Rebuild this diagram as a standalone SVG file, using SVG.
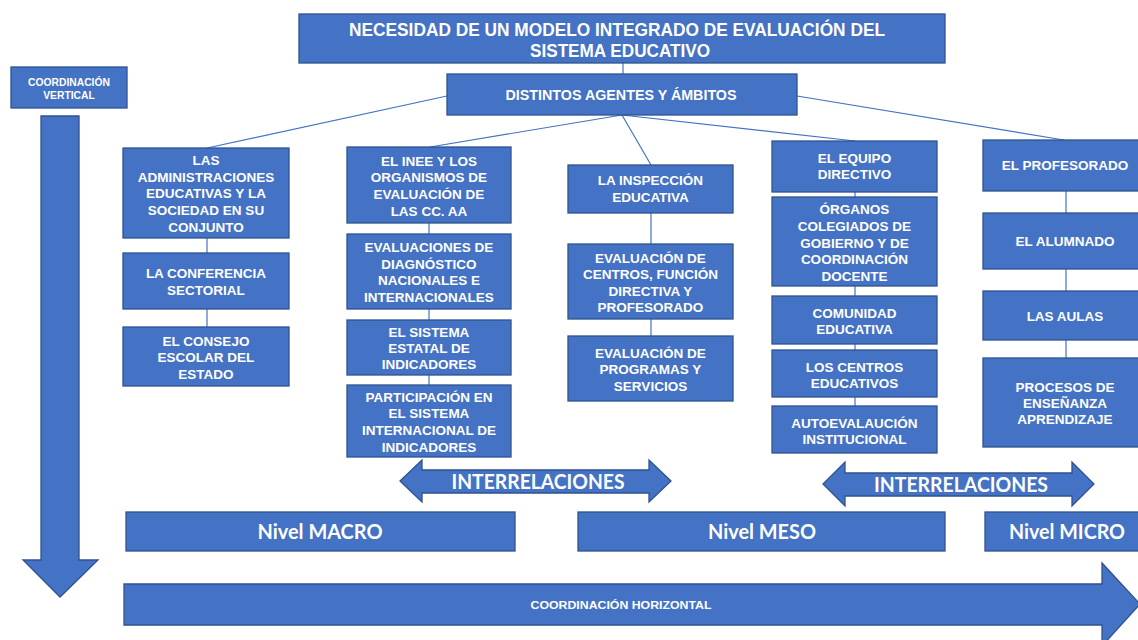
<svg xmlns="http://www.w3.org/2000/svg" width="1138" height="640" viewBox="0 0 1138 640">
<style>
.b{fill:#4472C4;stroke:#2F528F;stroke-width:1.3}
.t{font-family:"Liberation Sans",Arial,sans-serif;font-weight:bold;font-size:13.5px;fill:#fff;text-anchor:middle}
.n{font-family:"Liberation Sans",Arial,sans-serif;font-weight:bold;fill:#fff;text-anchor:middle}
.c{font-family:Lato,"Liberation Sans",sans-serif;font-weight:bold;font-size:20px;fill:#fff;text-anchor:middle}
.l{stroke:#4472C4;stroke-width:1.2;fill:none}
.v{stroke:#8FAADC;stroke-width:2;fill:none}
</style>
<g id="connectors">
<line class="l" x1="623" y1="63" x2="623" y2="74"/>
<line class="l" x1="447" y1="96" x2="207" y2="148"/>
<line class="l" x1="622" y1="115" x2="430" y2="147"/>
<line class="l" x1="622" y1="115" x2="651" y2="165"/>
<line class="l" x1="622" y1="115" x2="855" y2="141"/>
<line class="l" x1="797" y1="96" x2="1064" y2="140"/>
<line class="v" x1="207" y1="238" x2="207" y2="253"/>
<line class="v" x1="207" y1="309" x2="207" y2="327"/>
<line class="v" x1="429" y1="223" x2="429" y2="234"/>
<line class="v" x1="429" y1="309" x2="429" y2="320"/>
<line class="v" x1="429" y1="375" x2="429" y2="385"/>
<line class="v" x1="651" y1="213" x2="651" y2="244"/>
<line class="v" x1="651" y1="319" x2="651" y2="336"/>
<line class="v" x1="855" y1="192" x2="855" y2="197"/>
<line class="v" x1="855" y1="286" x2="855" y2="296"/>
<line class="v" x1="855" y1="344" x2="855" y2="350"/>
<line class="v" x1="855" y1="397" x2="855" y2="406"/>
<line class="v" x1="1066" y1="191" x2="1066" y2="213"/>
<line class="v" x1="1066" y1="269" x2="1066" y2="291"/>
<line class="v" x1="1066" y1="340" x2="1066" y2="358"/>
</g>
<g id="title">
<rect class="b" x="299" y="14" width="646" height="49"/>
<text class="n" x="617" y="36" font-size="17.5" textLength="536" lengthAdjust="spacingAndGlyphs">NECESIDAD DE UN MODELO INTEGRADO DE EVALUACIÓN DEL</text>
<text class="n" x="620" y="57" font-size="17.5" textLength="180" lengthAdjust="spacingAndGlyphs">SISTEMA EDUCATIVO</text>
</g>
<g id="agentes">
<rect class="b" x="447" y="74" width="350" height="41"/>
<text class="n" x="621" y="100" font-size="14" textLength="231" lengthAdjust="spacingAndGlyphs">DISTINTOS AGENTES Y ÁMBITOS</text>
</g>
<g id="coord-vertical">
<rect class="b" x="11" y="67" width="116" height="41"/>
<text class="n" x="69" y="85.5" font-size="10.3">COORDINACIÓN</text>
<text class="n" x="69" y="99" font-size="10.3">VERTICAL</text>
</g>
<g id="arrow-vertical">
<path class="b" d="M41,116 H79 V560 H98 L60,597 L23,560 H41 Z"/>
</g>
<g id="administraciones">
<rect class="b" x="123" y="148" width="166" height="90"/>
<text class="t" x="206" y="165">LAS</text>
<text class="t" x="206" y="181.7">ADMINISTRACIONES</text>
<text class="t" x="206" y="198.3">EDUCATIVAS Y LA</text>
<text class="t" x="206" y="215">SOCIEDAD EN SU</text>
<text class="t" x="206" y="231.7">CONJUNTO</text>
</g>
<g id="conferencia">
<rect class="b" x="123" y="253" width="166" height="56"/>
<text class="t" x="206" y="278.3">LA CONFERENCIA</text>
<text class="t" x="206" y="295">SECTORIAL</text>
</g>
<g id="consejo">
<rect class="b" x="123" y="327" width="166" height="59"/>
<text class="t" x="206" y="346">EL CONSEJO</text>
<text class="t" x="206" y="362">ESCOLAR DEL</text>
<text class="t" x="206" y="379">ESTADO</text>
</g>
<g id="inee">
<rect class="b" x="347" y="147" width="164" height="76"/>
<text class="t" x="429" y="166">EL INEE Y LOS</text>
<text class="t" x="429" y="182.3">ORGANISMOS DE</text>
<text class="t" x="429" y="199">EVALUACIÓN DE</text>
<text class="t" x="429" y="216">LAS CC. AA</text>
</g>
<g id="diagnostico">
<rect class="b" x="347" y="234" width="164" height="75"/>
<text class="t" x="429" y="252.3">EVALUACIONES DE</text>
<text class="t" x="429" y="269">DIAGNÓSTICO</text>
<text class="t" x="429" y="285">NACIONALES E</text>
<text class="t" x="429" y="301.7">INTERNACIONALES</text>
</g>
<g id="sistema-estatal">
<rect class="b" x="347" y="320" width="164" height="55"/>
<text class="t" x="429" y="336.7">EL SISTEMA</text>
<text class="t" x="429" y="353.3">ESTATAL DE</text>
<text class="t" x="429" y="369.3">INDICADORES</text>
</g>
<g id="participacion">
<rect class="b" x="347" y="385" width="164" height="72"/>
<text class="t" x="429" y="402.3">PARTICIPACIÓN EN</text>
<text class="t" x="429" y="418.3">EL SISTEMA</text>
<text class="t" x="429" y="435">INTERNACIONAL DE</text>
<text class="t" x="429" y="451.7">INDICADORES</text>
</g>
<g id="inspeccion">
<rect class="b" x="568" y="165" width="165" height="48"/>
<text class="t" x="650.5" y="185">LA INSPECCIÓN</text>
<text class="t" x="650.5" y="202.3">EDUCATIVA</text>
</g>
<g id="eval-centros">
<rect class="b" x="568" y="244" width="165" height="75"/>
<text class="t" x="650.5" y="263.3">EVALUACIÓN DE</text>
<text class="t" x="650.5" y="279.3">CENTROS, FUNCIÓN</text>
<text class="t" x="650.5" y="296">DIRECTIVA Y</text>
<text class="t" x="650.5" y="311.7">PROFESORADO</text>
</g>
<g id="eval-programas">
<rect class="b" x="568" y="336" width="165" height="65"/>
<text class="t" x="650.5" y="357.7">EVALUACIÓN DE</text>
<text class="t" x="650.5" y="374.3">PROGRAMAS Y</text>
<text class="t" x="650.5" y="391">SERVICIOS</text>
</g>
<g id="equipo">
<rect class="b" x="772" y="141" width="165" height="51"/>
<text class="t" x="854.5" y="163.3">EL EQUIPO</text>
<text class="t" x="854.5" y="179.3">DIRECTIVO</text>
</g>
<g id="organos">
<rect class="b" x="772" y="197" width="165" height="89"/>
<text class="t" x="854.5" y="214.3">ÓRGANOS</text>
<text class="t" x="854.5" y="231">COLEGIADOS DE</text>
<text class="t" x="854.5" y="247.7">GOBIERNO Y DE</text>
<text class="t" x="854.5" y="264.3">COORDINACIÓN</text>
<text class="t" x="854.5" y="281">DOCENTE</text>
</g>
<g id="comunidad">
<rect class="b" x="772" y="296" width="165" height="48"/>
<text class="t" x="854.5" y="318.3">COMUNIDAD</text>
<text class="t" x="854.5" y="334.3">EDUCATIVA</text>
</g>
<g id="centros">
<rect class="b" x="772" y="350" width="165" height="47"/>
<text class="t" x="854.5" y="371.7">LOS CENTROS</text>
<text class="t" x="854.5" y="387.7">EDUCATIVOS</text>
</g>
<g id="autoevaluacion">
<rect class="b" x="772" y="406" width="165" height="47"/>
<text class="t" x="854.5" y="427.7">AUTOEVALAUCIÓN</text>
<text class="t" x="854.5" y="444.3">INSTITUCIONAL</text>
</g>
<g id="profesorado">
<rect class="b" x="983" y="140" width="165" height="51"/>
<text class="t" x="1065" y="170">EL PROFESORADO</text>
</g>
<g id="alumnado">
<rect class="b" x="983" y="213" width="165" height="56"/>
<text class="t" x="1065" y="246">EL ALUMNADO</text>
</g>
<g id="aulas">
<rect class="b" x="983" y="291" width="165" height="49"/>
<text class="t" x="1065" y="321">LAS AULAS</text>
</g>
<g id="procesos">
<rect class="b" x="983" y="358" width="165" height="89"/>
<text class="t" x="1065" y="392.3">PROCESOS DE</text>
<text class="t" x="1065" y="408.3">ENSEÑANZA</text>
<text class="t" x="1065" y="424.3">APRENDIZAJE</text>
</g>
<g id="interrelaciones-1">
<path class="b" d="M400,481 L422,460 V470 H649 V460 L671,481 L649,502 V493 H422 V502 Z"/>
<text class="c" x="538" y="489" textLength="173" lengthAdjust="spacingAndGlyphs">INTERRELACIONES</text>
</g>
<g id="interrelaciones-2">
<path class="b" d="M823,484 L845,462 V473 H1072 V462 L1094,484 L1072,506 V496 H845 V506 Z"/>
<text class="c" x="961" y="492" textLength="174" lengthAdjust="spacingAndGlyphs">INTERRELACIONES</text>
</g>
<g id="nivel-macro">
<rect class="b" x="126" y="512" width="389" height="39"/>
<text class="c" x="320" y="539" textLength="125" lengthAdjust="spacingAndGlyphs">Nivel MACRO</text>
</g>
<g id="nivel-meso">
<rect class="b" x="578" y="512" width="367" height="39"/>
<text class="c" x="762" y="539" textLength="108" lengthAdjust="spacingAndGlyphs">Nivel MESO</text>
</g>
<g id="nivel-micro">
<rect class="b" x="985" y="512" width="165" height="39"/>
<text class="c" x="1067" y="539" textLength="116" lengthAdjust="spacingAndGlyphs">Nivel MICRO</text>
</g>
<g id="coord-horizontal">
<path class="b" d="M124,584 H1102 V563 L1140,604 L1102,646 V625 H124 Z"/>
<text class="n" x="621" y="609" font-size="11" textLength="181" lengthAdjust="spacingAndGlyphs">COORDINACIÓN HORIZONTAL</text>
</g>
</svg>
